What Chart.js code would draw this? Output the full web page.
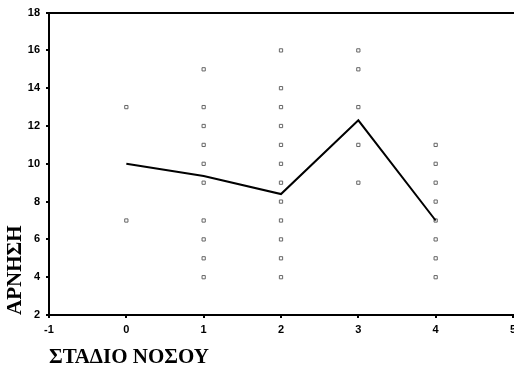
<!DOCTYPE html>
<html>
<head>
<meta charset="utf-8">
<script src="https://cdn.jsdelivr.net/npm/chart.js@4/dist/chart.umd.min.js"></script>
<style>
  html, body { margin: 0; padding: 0; background: #fff; overflow: hidden; }
  #wrap { width: 514px; height: 367px; overflow: hidden; }
</style>
</head>
<body>
<div id="wrap"><canvas id="myChart" width="518" height="367"></canvas></div>
<script>
// stage of disease -> observed scores
const stage0 = [13, 7];
const stage1 = [15, 13, 12, 11, 10, 9, 7, 6, 5, 4];
const stage2 = [16, 14, 13, 12, 11, 10, 9, 8, 7, 6, 5, 4];
const stage3 = [16, 15, 13, 11, 9];
const stage4 = [11, 10, 9, 8, 7, 6, 5, 4];

// mean line
const stages = [0, 1, 2, 3, 4];
const means = [10, 9.35, 8.4, 12.3, 7];

const xTicks = [-1, 0, 1, 2, 3, 4, 5];
const yTicks = [2, 4, 6, 8, 10, 12, 14, 16, 18];

const puntos = [stage0, stage1, stage2, stage3, stage4]
  .flatMap((vals, i) => vals.map((v) => ({ x: stages[i], y: v })));
const linea = stages.map((s, i) => ({ x: s, y: means[i] }));

const chart = document.querySelector("#myChart");
const tickFont = { family: "Liberation Sans, Arial, sans-serif", size: 11, weight: "bold" };
const titleFont = { family: "Liberation Serif, Times New Roman, serif", size: 21, weight: "bold" };

const myChart = new Chart(chart, {
  type: "scatter",
  data: {
    datasets: [
      {
        type: "line",
        data: linea,
        borderColor: "#000",
        borderWidth: 2,
        pointRadius: 0,
        tension: 0,
        order: 0,
      },
      {
        data: puntos,
        pointStyle: "rect",
        pointRadius: 2.3,
        borderWidth: 1,
        borderColor: "#666",
        backgroundColor: "#fff",
        order: 1,
      },
    ],
  },
  options: {
    responsive: false,
    animation: false,
    layout: { padding: { top: 12, right: 0, left: 0, bottom: 0 } },
    plugins: { legend: { display: false }, tooltip: { enabled: false } },
    scales: {
      x: {
        type: "linear",
        min: -1,
        max: 5,
        afterBuildTicks: (scale) => { scale.ticks = xTicks.map((v) => ({ value: v })); },
        afterFit: (scale) => { scale.height = 52; scale.paddingLeft = 0; scale.paddingRight = 0; },
        border: { color: "#000", width: 2 },
        grid: { display: true, drawOnChartArea: false, drawTicks: true, tickLength: 3, color: "#000", lineWidth: 2 },
        ticks: { font: tickFont, color: "#000", padding: 5, maxRotation: 0 },
        title: { display: true, text: "ΣΤΑΔΙΟ ΝΟΣΟΥ", align: "start", font: titleFont, color: "#000", padding: { top: 0, bottom: -3 } },
      },
      x2: {
        type: "linear",
        position: "top",
        min: -1,
        max: 5,
        border: { color: "#000", width: 2 },
        grid: { display: false, drawTicks: false },
        ticks: { display: false },
        afterFit: (scale) => { scale.height = 0; scale.paddingLeft = 0; scale.paddingRight = 0; },
      },
      y: {
        type: "linear",
        min: 2,
        max: 18,
        afterBuildTicks: (scale) => { scale.ticks = yTicks.map((v) => ({ value: v })); },
        afterFit: (scale) => { scale.width = 49; },
        border: { color: "#000", width: 2 },
        grid: { display: true, drawOnChartArea: false, drawTicks: true, tickLength: 3, color: "#000", lineWidth: 2 },
        ticks: { font: tickFont, color: "#000", padding: 6 },
        title: { display: true, text: "ΑΡΝΗΣΗ", align: "start", font: titleFont, color: "#000", padding: { top: 3, bottom: 0 } },
      },
    },
  },
});
</script>
</body>
</html>
